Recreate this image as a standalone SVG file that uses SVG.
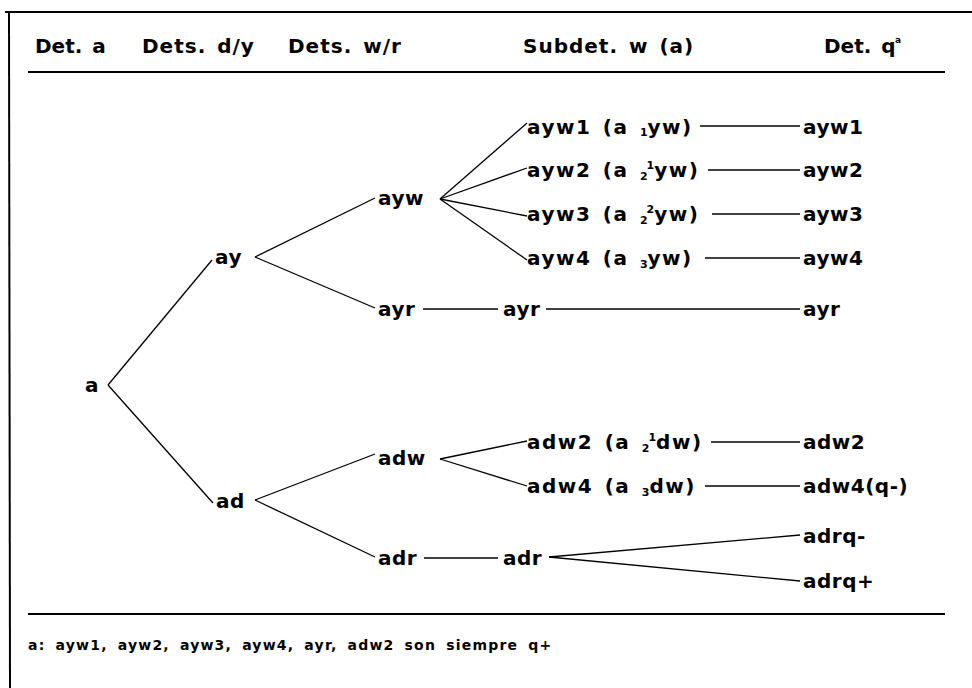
<svg xmlns="http://www.w3.org/2000/svg" width="972" height="688" viewBox="0 0 972 688">
<style>
text{font-family:"DejaVu Sans","Liberation Sans",Arial,sans-serif;font-weight:bold;fill:#000}
.h{font-size:20px;letter-spacing:1px;word-spacing:3px}
.n{font-size:20px;letter-spacing:0.5px}
.sub{letter-spacing:1.5px;word-spacing:3px}
.s{font-size:11px;letter-spacing:0}
.f{font-size:14px;letter-spacing:1.2px;word-spacing:4px}
.c line{stroke:#000;stroke-width:1.3;fill:none}
.rule{stroke:#000;stroke-width:2}
</style>
<rect x="0" y="0" width="972" height="688" fill="#fff"/>
<g id="frame">
<line class="rule" x1="5" y1="12" x2="972" y2="12"/>
<line class="rule" x1="9" y1="12" x2="10" y2="688"/>
<line class="rule" x1="28" y1="72" x2="945" y2="72"/>
<line class="rule" x1="28" y1="614" x2="945" y2="614"/>
</g>
<g id="header">
<text class="h" x="35" y="53" style="letter-spacing:0">Det. a</text>
<text class="h" x="142" y="53">Dets. d/y</text>
<text class="h" x="288" y="53">Dets. w/r</text>
<text class="h" x="523" y="53">Subdet. w (a)</text>
<text class="h" x="824" y="53" style="letter-spacing:0">Det. q</text>
<text class="s" x="895" y="43" style="font-size:9px">a</text>
</g>
<g class="c" id="connectors">
<line x1="108" y1="385" x2="212" y2="260"/>
<line x1="108" y1="385" x2="213" y2="503"/>
<line x1="255" y1="257" x2="375" y2="198"/>
<line x1="255" y1="257" x2="375" y2="308"/>
<line x1="440" y1="199" x2="527" y2="123"/>
<line x1="440" y1="199" x2="527" y2="168"/>
<line x1="440" y1="199" x2="527" y2="216"/>
<line x1="440" y1="199" x2="527" y2="260"/>
<line x1="700" y1="126" x2="800" y2="126"/>
<line x1="708" y1="170" x2="800" y2="170"/>
<line x1="712" y1="214" x2="800" y2="214"/>
<line x1="705" y1="258" x2="800" y2="258"/>
<line x1="423" y1="309" x2="498" y2="309"/>
<line x1="546" y1="309" x2="800" y2="309"/>
<line x1="255" y1="500" x2="375" y2="454"/>
<line x1="255" y1="500" x2="375" y2="557"/>
<line x1="440" y1="459" x2="527" y2="441"/>
<line x1="440" y1="459" x2="527" y2="486"/>
<line x1="711" y1="442" x2="800" y2="442"/>
<line x1="705" y1="486" x2="800" y2="486"/>
<line x1="424" y1="558" x2="498" y2="558"/>
<line x1="549" y1="557" x2="800" y2="535"/>
<line x1="549" y1="557" x2="800" y2="581"/>
</g>
<g id="n-a"><text class="n" x="85" y="392">a</text></g>
<g id="n-ay"><text class="n" x="215" y="264">ay</text></g>
<g id="n-ad"><text class="n" x="216" y="508">ad</text></g>
<g id="n-ayw"><text class="n" x="378" y="205">ayw</text></g>
<g id="n-ayr"><text class="n" x="378" y="316">ayr</text></g>
<g id="n-adw"><text class="n" x="378" y="465">adw</text></g>
<g id="n-adr"><text class="n" x="378" y="565">adr</text></g>
<g id="n-ayw1s"><text class="n sub" x="527" y="134">ayw1 (a <tspan class="s" dy="2">1</tspan><tspan dy="-2">yw)</tspan></text></g>
<g id="n-ayw2s"><text class="n sub" x="527" y="177">ayw2 (a <tspan class="s" dy="3">2</tspan><tspan class="s" dx="-1" dy="-11">1</tspan><tspan dy="8">yw)</tspan></text></g>
<g id="n-ayw3s"><text class="n sub" x="527" y="221">ayw3 (a <tspan class="s" dy="3">2</tspan><tspan class="s" dx="-1" dy="-11">2</tspan><tspan dy="8">yw)</tspan></text></g>
<g id="n-ayw4s"><text class="n sub" x="527" y="265">ayw4 (a <tspan class="s" dy="3">3</tspan><tspan dy="-3">yw)</tspan></text></g>
<g id="n-ayrs"><text class="n" x="503" y="316">ayr</text></g>
<g id="n-adw2s"><text class="n sub" x="527" y="449">adw2 (a <tspan class="s" dy="3">2</tspan><tspan class="s" dx="-1" dy="-11">1</tspan><tspan dy="8">dw)</tspan></text></g>
<g id="n-adw4s"><text class="n sub" x="527" y="493">adw4 (a <tspan class="s" dy="3">3</tspan><tspan dy="-3">dw)</tspan></text></g>
<g id="n-adrs"><text class="n" x="503" y="565">adr</text></g>
<g id="n-ayw1"><text class="n" x="803" y="134">ayw1</text></g>
<g id="n-ayw2"><text class="n" x="803" y="177">ayw2</text></g>
<g id="n-ayw3"><text class="n" x="803" y="221">ayw3</text></g>
<g id="n-ayw4"><text class="n" x="803" y="265">ayw4</text></g>
<g id="n-ayrq"><text class="n" x="803" y="316">ayr</text></g>
<g id="n-adw2"><text class="n" x="803" y="449">adw2</text></g>
<g id="n-adw4"><text class="n" x="803" y="493">adw4(q-)</text></g>
<g id="n-adrqm"><text class="n" x="803" y="543">adrq-</text></g>
<g id="n-adrqp"><text class="n" x="803" y="588">adrq+</text></g>
<g id="footnote"><text class="f" x="28" y="650">a:  ayw1, ayw2, ayw3, ayw4, ayr, adw2 son siempre q+</text></g>
</svg>
